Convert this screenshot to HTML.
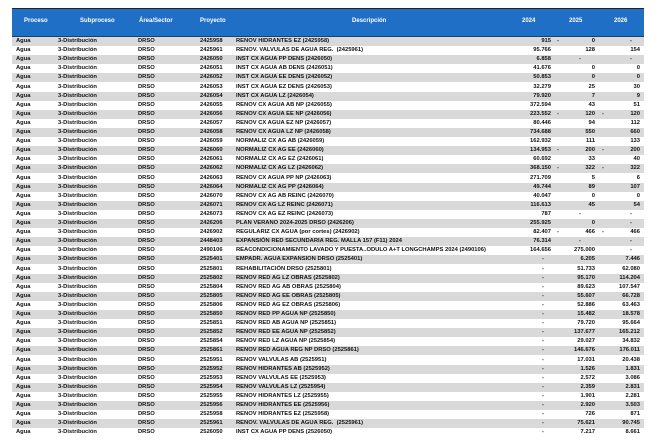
<!DOCTYPE html>
<html><head><meta charset="utf-8"><style>
body{margin:0;width:659px;height:448px;background:#fff;position:relative;overflow:hidden;font-family:"Liberation Sans",sans-serif}
.top{position:absolute;left:12px;top:8px;width:632px;height:1px;background:#222}
.hd{position:absolute;left:12px;top:9px;width:632px;height:27px;background:#1f6fc6;border-bottom:1px solid #1a3f70;color:#fff;font-weight:bold;font-size:6px}
.hd span{position:absolute;top:9px}
.r{position:absolute;left:12px;width:632px;height:9.1px;font-weight:bold;font-size:5.8px;line-height:9.1px;color:#111;white-space:nowrap}
.g{background:#d9d9d9}
.r span{position:absolute}
.a{left:4px}.b{left:46px}.c{left:126px}.d{left:188px}.e{left:224px}
.f{right:93px}.h{right:49px}.i{right:4px}
.x{left:545px}.y{left:590px}.z{left:567px}.w{left:618px}.v{left:530px}
</style></head><body>
<div class="top"></div>
<div class="hd"><span style="left:12px">Proceso</span><span style="left:68px">Subproceso</span><span style="left:127px">Área/Sector</span><span style="left:188px">Proyecto</span><span style="left:340px">Descripción</span><span style="left:510px">2024</span><span style="left:557px">2025</span><span style="left:602px">2026</span></div>

<div class="r g" style="top:37px"><span class="a">Agua</span><span class="b">3-Distribución</span><span class="c">DRSO</span><span class="d">2425958</span><span class="e">RENOV HIDRANTES EZ (2425958)</span><span class="f">915</span><span class="x">-</span><span class="h">0</span><span class="w">-</span></div>
<div class="r" style="top:46.1px"><span class="a">Agua</span><span class="b">3-Distribución</span><span class="c">DRSO</span><span class="d">2425961</span><span class="e">RENOV. VALVULAS DE AGUA REG.&nbsp; (2425961)</span><span class="f">95.766</span><span class="h">128</span><span class="i">154</span></div>
<div class="r g" style="top:55.2px"><span class="a">Agua</span><span class="b">3-Distribución</span><span class="c">DRSO</span><span class="d">2426050</span><span class="e">INST CX AGUA PP DENS (2426050)</span><span class="f">6.858</span><span class="z">-</span><span class="w">-</span></div>
<div class="r" style="top:64.3px"><span class="a">Agua</span><span class="b">3-Distribución</span><span class="c">DRSO</span><span class="d">2426051</span><span class="e">INST CX AGUA AB DENS (2426051)</span><span class="f">41.676</span><span class="h">0</span><span class="i">0</span></div>
<div class="r g" style="top:73.4px"><span class="a">Agua</span><span class="b">3-Distribución</span><span class="c">DRSO</span><span class="d">2426052</span><span class="e">INST CX AGUA EE DENS (2426052)</span><span class="f">50.853</span><span class="h">0</span><span class="i">0</span></div>
<div class="r" style="top:82.5px"><span class="a">Agua</span><span class="b">3-Distribución</span><span class="c">DRSO</span><span class="d">2426053</span><span class="e">INST CX AGUA EZ DENS (2426053)</span><span class="f">32.279</span><span class="h">25</span><span class="i">30</span></div>
<div class="r g" style="top:91.6px"><span class="a">Agua</span><span class="b">3-Distribución</span><span class="c">DRSO</span><span class="d">2426054</span><span class="e">INST CX AGUA LZ (2426054)</span><span class="f">79.920</span><span class="h">7</span><span class="i">9</span></div>
<div class="r" style="top:100.7px"><span class="a">Agua</span><span class="b">3-Distribución</span><span class="c">DRSO</span><span class="d">2426055</span><span class="e">RENOV CX AGUA AB NP (2426055)</span><span class="f">372.594</span><span class="h">43</span><span class="i">51</span></div>
<div class="r g" style="top:109.8px"><span class="a">Agua</span><span class="b">3-Distribución</span><span class="c">DRSO</span><span class="d">2426056</span><span class="e">RENOV CX AGUA EE NP (2426056)</span><span class="f">223.552</span><span class="x">-</span><span class="h">120</span><span class="y">-</span><span class="i">120</span></div>
<div class="r" style="top:118.9px"><span class="a">Agua</span><span class="b">3-Distribución</span><span class="c">DRSO</span><span class="d">2426057</span><span class="e">RENOV CX AGUA EZ NP (2426057)</span><span class="f">80.446</span><span class="h">94</span><span class="i">112</span></div>
<div class="r g" style="top:128px"><span class="a">Agua</span><span class="b">3-Distribución</span><span class="c">DRSO</span><span class="d">2426058</span><span class="e">RENOV CX AGUA LZ NP (2426058)</span><span class="f">734.688</span><span class="h">550</span><span class="i">660</span></div>
<div class="r" style="top:137.1px"><span class="a">Agua</span><span class="b">3-Distribución</span><span class="c">DRSO</span><span class="d">2426059</span><span class="e">NORMALIZ CX AG AB (2426059)</span><span class="f">162.932</span><span class="h">111</span><span class="i">133</span></div>
<div class="r g" style="top:146.2px"><span class="a">Agua</span><span class="b">3-Distribución</span><span class="c">DRSO</span><span class="d">2426060</span><span class="e">NORMALIZ CX AG EE (2426060)</span><span class="f">134.953</span><span class="x">-</span><span class="h">200</span><span class="y">-</span><span class="i">200</span></div>
<div class="r" style="top:155.3px"><span class="a">Agua</span><span class="b">3-Distribución</span><span class="c">DRSO</span><span class="d">2426061</span><span class="e">NORMALIZ CX AG EZ (2426061)</span><span class="f">60.692</span><span class="h">33</span><span class="i">40</span></div>
<div class="r g" style="top:164.4px"><span class="a">Agua</span><span class="b">3-Distribución</span><span class="c">DRSO</span><span class="d">2426062</span><span class="e">NORMALIZ CX AG LZ (2426062)</span><span class="f">368.150</span><span class="x">-</span><span class="h">322</span><span class="y">-</span><span class="i">322</span></div>
<div class="r" style="top:173.5px"><span class="a">Agua</span><span class="b">3-Distribución</span><span class="c">DRSO</span><span class="d">2426063</span><span class="e">RENOV CX AGUA PP NP (2426063)</span><span class="f">271.709</span><span class="h">5</span><span class="i">6</span></div>
<div class="r g" style="top:182.6px"><span class="a">Agua</span><span class="b">3-Distribución</span><span class="c">DRSO</span><span class="d">2426064</span><span class="e">NORMALIZ CX AG PP (2426064)</span><span class="f">49.744</span><span class="h">89</span><span class="i">107</span></div>
<div class="r" style="top:191.7px"><span class="a">Agua</span><span class="b">3-Distribución</span><span class="c">DRSO</span><span class="d">2426070</span><span class="e">RENOV CX AG AB REINC (2426070)</span><span class="f">40.047</span><span class="h">0</span><span class="i">0</span></div>
<div class="r g" style="top:200.8px"><span class="a">Agua</span><span class="b">3-Distribución</span><span class="c">DRSO</span><span class="d">2426071</span><span class="e">RENOV CX AG LZ REINC (2426071)</span><span class="f">116.613</span><span class="h">45</span><span class="i">54</span></div>
<div class="r" style="top:209.9px"><span class="a">Agua</span><span class="b">3-Distribución</span><span class="c">DRSO</span><span class="d">2426073</span><span class="e">RENOV CX AG EZ REINC (2426073)</span><span class="f">787</span><span class="z">-</span><span class="w">-</span></div>
<div class="r g" style="top:219px"><span class="a">Agua</span><span class="b">3-Distribución</span><span class="c">DRSO</span><span class="d">2426206</span><span class="e">PLAN VERANO 2024-2025 DRSO (2426206)</span><span class="f">255.925</span><span class="h">0</span><span class="w">-</span></div>
<div class="r" style="top:228.1px"><span class="a">Agua</span><span class="b">3-Distribución</span><span class="c">DRSO</span><span class="d">2426902</span><span class="e">REGULARIZ CX AGUA (por cortes) (2426902)</span><span class="f">82.407</span><span class="x">-</span><span class="h">466</span><span class="y">-</span><span class="i">466</span></div>
<div class="r g" style="top:237.2px"><span class="a">Agua</span><span class="b">3-Distribución</span><span class="c">DRSO</span><span class="d">2448403</span><span class="e">EXPANSIÓN RED SECUNDARIA REG. MALLA 157 (F11) 2024</span><span class="f">76.314</span><span class="z">-</span><span class="w">-</span></div>
<div class="r" style="top:246.3px"><span class="a">Agua</span><span class="b">3-Distribución</span><span class="c">DRSO</span><span class="d">2490106</span><span class="e">REACONDICIONAMIENTO LAVADO Y PUESTA..ODULO A+T LONGCHAMPS 2024 (2490106)</span><span class="f">164.656</span><span class="h">275.000</span><span class="w">-</span></div>
<div class="r g" style="top:255.4px"><span class="a">Agua</span><span class="b">3-Distribución</span><span class="c">DRSO</span><span class="d">2525401</span><span class="e">EMPADR. AGUA EXPANSION DRSO (2525401)</span><span class="v">-</span><span class="h">6.205</span><span class="i">7.446</span></div>
<div class="r" style="top:264.5px"><span class="a">Agua</span><span class="b">3-Distribución</span><span class="c">DRSO</span><span class="d">2525801</span><span class="e">REHABILITACIÓN DRSO (2525801)</span><span class="v">-</span><span class="h">51.733</span><span class="i">62.080</span></div>
<div class="r g" style="top:273.6px"><span class="a">Agua</span><span class="b">3-Distribución</span><span class="c">DRSO</span><span class="d">2525802</span><span class="e">RENOV RED AG LZ OBRAS (2525802)</span><span class="v">-</span><span class="h">95.170</span><span class="i">114.204</span></div>
<div class="r" style="top:282.7px"><span class="a">Agua</span><span class="b">3-Distribución</span><span class="c">DRSO</span><span class="d">2525804</span><span class="e">RENOV RED AG AB OBRAS (2525804)</span><span class="v">-</span><span class="h">89.623</span><span class="i">107.547</span></div>
<div class="r g" style="top:291.8px"><span class="a">Agua</span><span class="b">3-Distribución</span><span class="c">DRSO</span><span class="d">2525805</span><span class="e">RENOV RED AG EE OBRAS (2525805)</span><span class="v">-</span><span class="h">55.607</span><span class="i">66.728</span></div>
<div class="r" style="top:300.9px"><span class="a">Agua</span><span class="b">3-Distribución</span><span class="c">DRSO</span><span class="d">2525806</span><span class="e">RENOV RED AG EZ OBRAS (2525806)</span><span class="v">-</span><span class="h">52.886</span><span class="i">63.463</span></div>
<div class="r g" style="top:310px"><span class="a">Agua</span><span class="b">3-Distribución</span><span class="c">DRSO</span><span class="d">2525850</span><span class="e">RENOV RED PP AGUA NP (2525850)</span><span class="v">-</span><span class="h">15.482</span><span class="i">18.578</span></div>
<div class="r" style="top:319.1px"><span class="a">Agua</span><span class="b">3-Distribución</span><span class="c">DRSO</span><span class="d">2525851</span><span class="e">RENOV RED AB AGUA NP (2525851)</span><span class="v">-</span><span class="h">79.720</span><span class="i">95.664</span></div>
<div class="r g" style="top:328.2px"><span class="a">Agua</span><span class="b">3-Distribución</span><span class="c">DRSO</span><span class="d">2525852</span><span class="e">RENOV RED EE AGUA NP (2525852)</span><span class="v">-</span><span class="h">137.677</span><span class="i">165.212</span></div>
<div class="r" style="top:337.3px"><span class="a">Agua</span><span class="b">3-Distribución</span><span class="c">DRSO</span><span class="d">2525854</span><span class="e">RENOV RED LZ AGUA NP (2525854)</span><span class="v">-</span><span class="h">29.027</span><span class="i">34.832</span></div>
<div class="r g" style="top:346.4px"><span class="a">Agua</span><span class="b">3-Distribución</span><span class="c">DRSO</span><span class="d">2525861</span><span class="e">RENOV RED AGUA REG NP DRSO (2525861)</span><span class="v">-</span><span class="h">146.676</span><span class="i">176.011</span></div>
<div class="r" style="top:355.5px"><span class="a">Agua</span><span class="b">3-Distribución</span><span class="c">DRSO</span><span class="d">2525951</span><span class="e">RENOV VALVULAS AB (2525951)</span><span class="v">-</span><span class="h">17.031</span><span class="i">20.438</span></div>
<div class="r g" style="top:364.6px"><span class="a">Agua</span><span class="b">3-Distribución</span><span class="c">DRSO</span><span class="d">2525952</span><span class="e">RENOV HIDRANTES AB (2525952)</span><span class="v">-</span><span class="h">1.526</span><span class="i">1.831</span></div>
<div class="r" style="top:373.7px"><span class="a">Agua</span><span class="b">3-Distribución</span><span class="c">DRSO</span><span class="d">2525953</span><span class="e">RENOV VALVULAS EE (2525953)</span><span class="v">-</span><span class="h">2.572</span><span class="i">3.086</span></div>
<div class="r g" style="top:382.8px"><span class="a">Agua</span><span class="b">3-Distribución</span><span class="c">DRSO</span><span class="d">2525954</span><span class="e">RENOV VALVULAS LZ (2525954)</span><span class="v">-</span><span class="h">2.359</span><span class="i">2.831</span></div>
<div class="r" style="top:391.9px"><span class="a">Agua</span><span class="b">3-Distribución</span><span class="c">DRSO</span><span class="d">2525955</span><span class="e">RENOV HIDRANTES LZ (2525955)</span><span class="v">-</span><span class="h">1.901</span><span class="i">2.281</span></div>
<div class="r g" style="top:401px"><span class="a">Agua</span><span class="b">3-Distribución</span><span class="c">DRSO</span><span class="d">2525956</span><span class="e">RENOV HIDRANTES EE (2525956)</span><span class="v">-</span><span class="h">2.920</span><span class="i">3.503</span></div>
<div class="r" style="top:410.1px"><span class="a">Agua</span><span class="b">3-Distribución</span><span class="c">DRSO</span><span class="d">2525958</span><span class="e">RENOV HIDRANTES EZ (2525958)</span><span class="v">-</span><span class="h">726</span><span class="i">871</span></div>
<div class="r g" style="top:419.2px"><span class="a">Agua</span><span class="b">3-Distribución</span><span class="c">DRSO</span><span class="d">2525961</span><span class="e">RENOV. VALVULAS DE AGUA REG.&nbsp; (2525961)</span><span class="v">-</span><span class="h">75.621</span><span class="i">90.745</span></div>
<div class="r" style="top:428.3px"><span class="a">Agua</span><span class="b">3-Distribución</span><span class="c">DRSO</span><span class="d">2526050</span><span class="e">INST CX AGUA PP DENS (2526050)</span><span class="v">-</span><span class="h">7.217</span><span class="i">8.661</span></div>
</body></html>
